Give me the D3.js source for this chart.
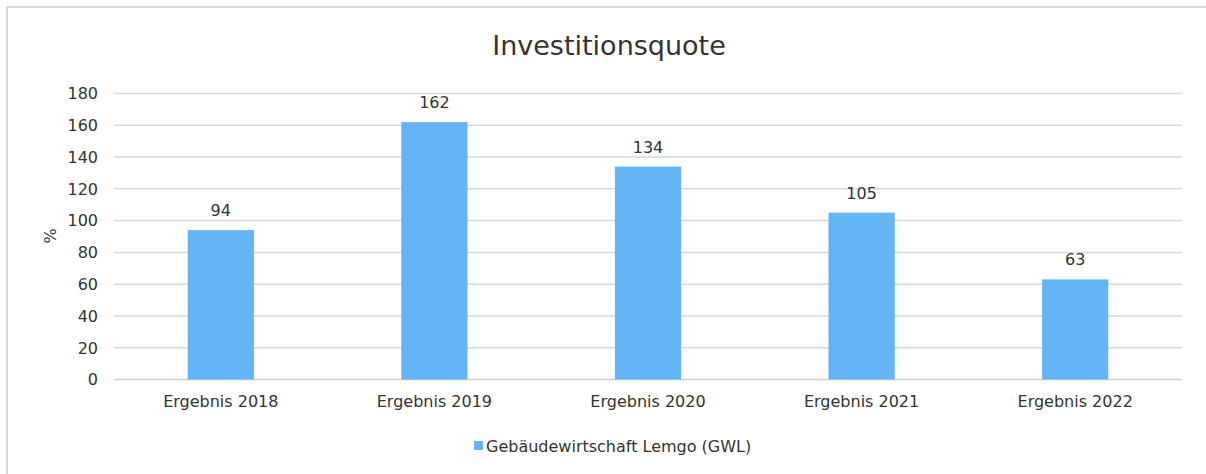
<!DOCTYPE html>
<html>
<head>
<meta charset="utf-8">
<script src="https://cdn.jsdelivr.net/npm/d3@7"></script>
<style>
  body { margin: 0; background: #fff; }
  svg text { font-family: "DejaVu Sans", Verdana, sans-serif; fill: #333; }
</style>
</head>
<body>
<div id="chart"></div>
<script>
// Investitionsquote bar chart

var categories = ["Ergebnis 2018", "Ergebnis 2019", "Ergebnis 2020", "Ergebnis 2021", "Ergebnis 2022"];
var values = [94, 162, 134, 105, 63];
var yTicks = [0, 20, 40, 60, 80, 100, 120, 140, 160, 180];
var seriesName = "Gebäudewirtschaft Lemgo (GWL)";
var chartTitle = "Investitionsquote";

var width = 1206, height = 474;
var barColor = "#64b5f6";

var svg = d3.select("#chart")
    .append("svg")
        .attr("width", width)
        .attr("height", height);

// outer frame (runs off the right/bottom edge like in the picture)
svg.append("rect")
    .attr("x", 7)
    .attr("y", 7)
    .attr("width", 1212)
    .attr("height", 480)
    .attr("fill", "none")
    .attr("stroke", "#d9d9d9")
    .attr("stroke-width", 2);

var x = d3.scaleBand()
    .domain(categories)
    .range([114, 1182])
    .paddingInner(0.69)
    .paddingOuter(0.345);

var y = d3.scaleLinear()
    .domain([0, 180])
    .range([379.5, 93.5]);

// gridlines
svg.append("g")
    .selectAll("line")
    .data(yTicks)
    .enter()
    .append("line")
        .attr("x1", 114)
        .attr("x2", 1182)
        .attr("y1", function(d) { return y(d); })
        .attr("y2", function(d) { return y(d); })
        .attr("stroke", function(d) { return d === 0 ? "#d0d0d0" : "#d9d9d9"; })
        .attr("stroke-width", 1.5);

// y tick labels
svg.append("g")
    .selectAll("text")
    .data(yTicks)
    .enter()
    .append("text")
        .attr("x", 98)
        .attr("y", function(d) { return y(d) + 5.8; })
        .attr("text-anchor", "end")
        .attr("font-size", 16)
        .text(function(d) { return d; });

// bars
svg.append("g")
    .selectAll("rect")
    .data(values)
    .enter()
    .append("rect")
        .attr("x", function(d, i) { return x(categories[i]); })
        .attr("y", function(d) { return y(d); })
        .attr("width", x.bandwidth())
        .attr("height", function(d) { return y(0) - y(d); })
        .attr("fill", barColor);

// value labels
svg.append("g")
    .selectAll("text")
    .data(values)
    .enter()
    .append("text")
        .attr("x", function(d, i) { return x(categories[i]) + x.bandwidth() / 2; })
        .attr("y", function(d) { return y(d) - 14; })
        .attr("text-anchor", "middle")
        .attr("font-size", 16)
        .text(function(d) { return d; });

// category labels
svg.append("g")
    .selectAll("text")
    .data(categories)
    .enter()
    .append("text")
        .attr("x", function(d) { return x(d) + x.bandwidth() / 2; })
        .attr("y", 406.5)
        .attr("text-anchor", "middle")
        .attr("font-size", 16)
        .text(function(d) { return d; });

// y axis title
svg.append("text")
    .attr("transform", "translate(" + 56 + "," + 236 + ") rotate(-90)")
    .attr("text-anchor", "middle")
    .attr("font-size", 16)
    .text("%");

// chart title
svg.append("text")
    .attr("x", 609)
    .attr("y", 55)
    .attr("text-anchor", "middle")
    .attr("font-size", 27)
    .text(chartTitle);

// legend
var legend = svg.append("g");
legend.append("rect")
    .attr("x", 474)
    .attr("y", 441)
    .attr("width", 9)
    .attr("height", 9)
    .attr("fill", barColor);
legend.append("text")
    .attr("x", 486)
    .attr("y", 451.5)
    .attr("font-size", 16)
    .text(seriesName);
</script>
</body>
</html>
